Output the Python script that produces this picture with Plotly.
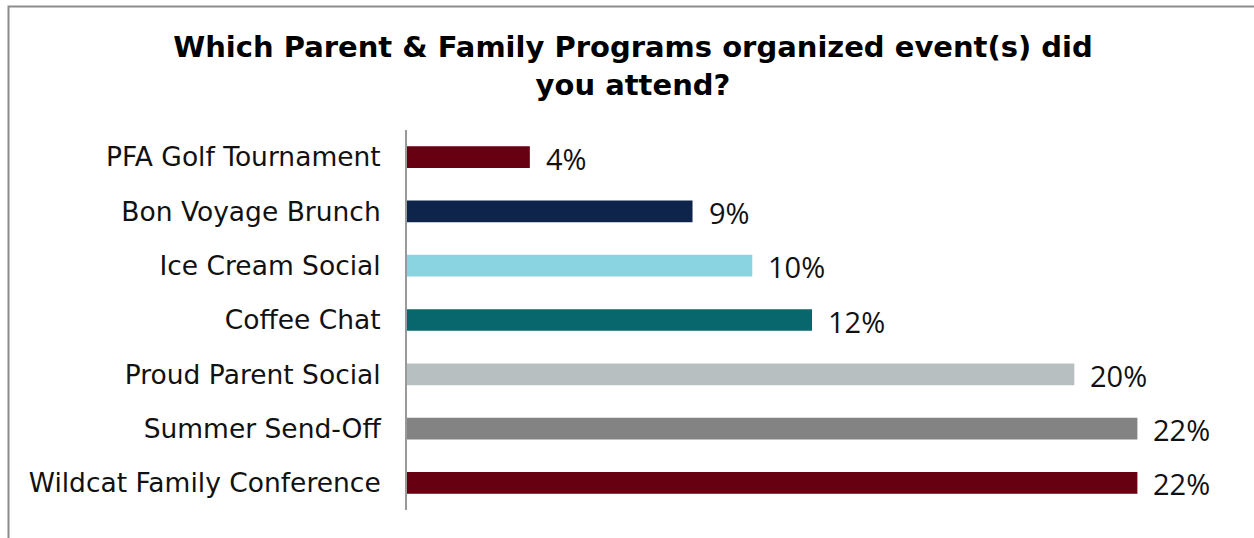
import plotly.graph_objects as go

events = [
    "PFA Golf Tournament",
    "Bon Voyage Brunch",
    "Ice Cream Social",
    "Coffee Chat",
    "Proud Parent Social",
    "Summer Send-Off",
    "Wildcat Family Conference",
]
shares = [0.037, 0.086, 0.104, 0.122, 0.201, 0.22, 0.22]
bar_colors = ["#670010", "#0e244a", "#8ad4e2", "#08666d", "#b8bfc1", "#838383", "#670010"]

W, H = 1254, 538
left, right, top, bottom = 407, 17, 130, 28
pw = W - left - right
ph = H - top - bottom

fig = go.Figure()
fig.add_trace(
    go.Bar(
        x=shares,
        y=events,
        orientation="h",
        marker=dict(color=bar_colors, line=dict(width=0)),
        width=0.4,
        hoverinfo="skip",
    )
)

for ev, v in zip(events, shares):
    fig.add_annotation(
        x=v, y=ev, text=f"{round(v * 100)}%",
        xanchor="left", xshift=14, yshift=-1, showarrow=False,
        font=dict(family="Open Sans, Liberation Sans, sans-serif", size=29, color="#111111"),
    )

# outer frame of the chart (right/bottom edges fall outside the page)
px = lambda x: (x - left) / pw
py = lambda y: (H - bottom - y) / ph
fig.add_shape(
    type="rect", xref="paper", yref="paper",
    x0=px(8.5), x1=px(1280), y0=py(560), y1=py(6.5),
    line=dict(color="#8c8c8c", width=2), fillcolor="rgba(0,0,0,0)", layer="below",
)

fig.update_layout(
    width=W,
    height=H,
    margin=dict(l=left, r=right, t=top, b=bottom, pad=0),
    paper_bgcolor="white",
    plot_bgcolor="white",
    showlegend=False,
    title=dict(
        text="Which Parent & Family Programs organized event(s) did<br>you attend?",
        x=633 / W, xanchor="center", y=1 - 57 / H, yanchor="top",
        font=dict(family="DejaVu Sans, Verdana, sans-serif", size=29, color="#000000", weight="bold"),
    ),
    xaxis=dict(range=[0, 0.25], visible=False, fixedrange=True),
    yaxis=dict(
        autorange="reversed",
        showline=True, linecolor="#999999", linewidth=2,
        ticks="", ticklabelstandoff=19,
        tickfont=dict(family="DejaVu Sans, Verdana, sans-serif", size=26.5, color="#111111"),
        showgrid=False, zeroline=False, fixedrange=True,
    ),
)

fig.write_html(
    "out.html",
    config={"displayModeBar": False},
    post_script="document.body.style.margin='0';",
)
